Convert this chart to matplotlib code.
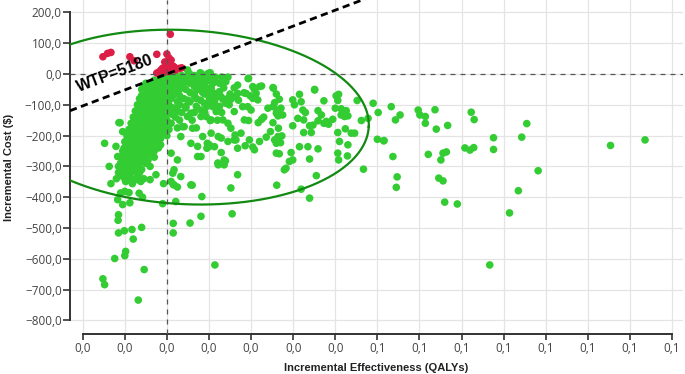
import numpy as np
import matplotlib
matplotlib.use("Agg")
import matplotlib.pyplot as plt

# ---------------- data (effect in 1/1000 QALY, cost in $) ----------------
red_pts = [(0.8, 129), (-15.2, 56), (-14.1, 67), (-13.3, 70), (-8.8, 56), (-7.8, 43), (-2.4, 64),
           (0, 65), (0.5, 52), (1, 45), (-0.5, 39), (0.5, 32), (1.4, 26), (-1, 19), (0, 19), (1, 13),
           (-1.4, 13), (2.1, 13), (2.9, 18), (-0.7, 6), (-1.9, 6), (3.5, 20), (-2.4, 3), (0.3, 8),
           (1.8, 22), (-0.2, 27), (-1.5, 10)]

core_rows = {
    -5: [0.5, 2, 3.5, 5, 6.5, 8],
    -12: [-0.5, 1, 2.5, 4, 5.5, 7, 9, 10.5],
    -20: [-3, -1.5, 0, 1.5, 3, 4.5, 6, 7.5, 11],
    -30: [-5, -3.5, -2, -0.5, 1, 2.5, 4, 5.5, 8, 12.5],
    -40: [-5.5, -4, -2.5, -1, 0.5, 2, 3.5, 6.5, 9],
    -50: [-6, -4.5, -3, -1.5, 0, 1.5, 3, 4.5, 7.5],
    -60: [-5.5, -4, -2.5, -1, 0.5, 2, 5.5, 8.5],
    -70: [-6, -4.5, -3, -1.5, 0, 1.5, 3, 6.5],
    -80: [-6.5, -5, -3.5, -2, -0.5, 1, 4, 7],
    -90: [-6, -4.5, -3, -1.5, 0, 2.5, 5.5],
    -100: [-7, -5.5, -4, -2.5, -1, 0.5, 3],
    -110: [-6.5, -5, -3.5, -2, -0.5, 1.5, 4.5],
    -120: [-7.5, -6, -4.5, -3, -1.5, 0, 2.5],
    -130: [-7, -5.5, -4, -2.5, -1, 1],
    -140: [-8, -6.5, -5, -3.5, -2, -0.5, 2],
    -150: [-7.5, -6, -4.5, -3, -1.5, 0],
    -160: [-8.5, -7, -5.5, -4, -2.5, -1, 1],
    -170: [-8, -6.5, -5, -3.5, -2, -0.5],
    -180: [-9, -7.5, -6, -4.5, -3, -1.5, 0.5],
    -190: [-8.5, -7, -5.5, -4, -2.5, -1],
    -200: [-9.5, -8, -6.5, -5, -3.5, -2, 0],
    -210: [-9, -7.5, -6, -4.5, -3, -1.5],
    -220: [-10, -8.5, -7, -5.5, -4, -2.5],
    -230: [-9.5, -8, -6.5, -5, -3.5, -1.5],
    -240: [-10, -8.5, -7, -5.5, -4, -2],
    -250: [-10.5, -9, -7.5, -6, -4.5, -3],
    -260: [-10, -8.5, -7, -5.5, -4],
    -270: [-11, -9.5, -8, -6.5, -5, -3],
    -280: [-10.5, -9, -7.5, -6, -4.5],
    -290: [-11, -9.5, -8, -6.5, -5],
    -300: [-11.5, -10, -8.5, -7, -4],
    -310: [-10.5, -9, -7.5, -6],
    -320: [-11.5, -10, -8.5, -6.5],
    -330: [-11, -9, -7],
    -340: [-12, -10, -8.5, -5.5],
}

near_rows = {
    -10: [11.5, 13, 14.5],
    -25: [9, 11.5, 14],
    -45: [7, 10.5, 13.5, 16],
    -65: [6.5, 9, 12, 15],
    -85: [5, 8, 11, 14, 17],
    -105: [4.5, 7, 9.5, 12.5],
    -125: [3.5, 6.5, 9, 13],
    -150: [3, 6, 12],
    -175: [2.5, 7],
}

near_pts = [(8.5, -3), (9.8, 2), (9.3, -25), (10.9, -30), (10.5, -46), (9.7, -63), (11.3, -63), (10.1, -79),
            (12.1, -74), (11.3, -90), (8.9, -95), (10.9, -106), (11.7, -122), (9.3, -138), (10.3, -151),
            (13.3, -149), (12.5, -57), (10.5, -192), (8.5, -203), (12.2, -203), (12.9, -208), (10.1, -230),
            (9.5, -241), (11.3, -236), (12.9, -255), (13.9, -282), (12.2, -295), (13.6, -295), (8.1, -268),
            (15.2, -176), (14.5, -160), (16.0, -122), (16.0, -214), (16.2, -198), (16.8, -36), (16.0, -74),
            (14.8, -100), (14.0, -95), (13.3, -82), (14.5, -79), (15.2, -82), (8.1, 2), (7.3, -30),
            (9.3, -52), (11.1, -63), (10.1, -95), (5.7, -127), (8.1, -138), (4.1, -171), (3.3, -203),
            (5.7, -225), (9.6, -225), (7.3, -268), (2.5, -279), (1.7, -311), (1.0, -257), (3.3, -333),
            (1.0, -349), (-2.6, -327), (-7.0, -343), (5.3, 2), (18.8, -63), (20.4, -41), (16.8, -63),
            (12.9, -74), (8.1, -117), (10.5, -149), (4.9, -138), (3.7, -171), (6.1, -176), (7.3, -235),
            (10.1, -235), (12.1, -289), (13.6, -279), (14.5, -219), (16.4, -214), (16.8, -241),
            (16.8, -327), (15.2, -370), (1.4, -322), (1.7, -360), (5.7, -360), (4.9, 13), (7.9, 4), (10.3, 4)]

mid_pts = [(19.4, -14), (18.3, -61), (20.8, -50), (21.2, -63), (22.0, -41), (22.5, -39), (20.4, -79),
           (19.8, -71), (21.6, -84), (19.2, -106), (20.0, -117), (18.0, -106), (24.0, -111), (25.2, -106),
           (25.3, -46), (26.0, -65), (26.7, -82), (25.6, -93), (26.2, -117), (27.1, -111), (26.0, -127),
           (27.5, -133), (26.4, -136), (29.9, -84), (30.3, -100), (31.5, -66), (31.9, -90), (32.3, -117),
           (32.9, -125), (35.1, -52), (37.3, -87), (35.9, -119), (36.7, -133), (37.9, -154), (39.4, -147),
           (40.2, -71), (40.8, -66), (40.6, -86), (40.0, -111), (41.4, -113), (42.6, -119), (41.4, -133),
           (42.2, -138), (43.0, -136), (18.4, -149), (19.4, -151), (21.7, -158), (22.5, -147), (23.0, -140),
           (25.2, -158), (26.5, -176), (29.9, -168), (31.1, -144), (32.5, -149), (33.9, -168), (34.7, -166),
           (34.3, -190), (35.9, -152), (37.3, -160), (38.4, -163), (42.4, -178), (40.6, -190), (43.8, -192),
           (44.6, -192), (17.6, -192), (19.6, -214), (18.6, -233), (20.4, -237), (20.8, -246), (22.0, -219),
           (23.6, -205), (24.6, -187), (25.6, -214), (26.4, -203), (27.3, -201), (26.0, -225), (27.0, -223),
           (29.5, -255), (31.5, -236), (33.5, -236), (35.9, -243), (32.5, -190), (33.9, -276), (29.1, -284),
           (29.9, -279), (28.3, -306), (27.9, -311), (26.0, -257), (26.7, -259), (40.6, -257), (40.8, -279),
           (42.9, -266), (43.0, -230), (41.0, -219), (35.5, -330), (31.9, -374), (33.9, -403), (26.1, -361),
           (25.2, -44), (35.1, -50), (19.3, -15)]

far_pts = [(53.3, -106), (54.3, -149), (55.4, -133), (51.6, -216), (53.7, -268), (54.7, -334), (54.5, -368),
           (59.7, -117), (60.1, -133), (61.4, -138), (61.4, -160), (63.7, -116), (64.0, -179), (66.7, -167),
           (62.1, -261), (65.1, -279), (65.6, -257), (66.4, -253), (64.6, -338), (65.6, -347), (66.0, -416),
           (69.0, -422), (72.3, -124), (73.0, -148), (70.8, -240), (72.0, -247), (72.9, -239), (77.6, -207),
           (77.6, -245), (76.7, -620), (81.4, -451), (83.5, -379), (84.3, -205), (85.5, -161), (88.2, -314),
           (105.4, -232), (113.6, -214), (49.0, -95), (50.2, -125), (50.0, -212), (51.5, -217), (46.7, -309),
           (46.2, -151), (47.8, -144), (45.2, -86)]

tail_pts = [(-13.3, -356), (-10.0, -381), (-11.0, -386), (-9.0, -385), (-6.6, -387), (-11.7, -408),
            (-10.5, -424), (-8.8, -418), (-5.8, -400), (-0.8, -356), (-1.0, -421), (1.5, -359), (2.5, -367),
            (2.1, -414), (6.0, -361), (8.3, -398), (-11.5, -457), (-11.6, -475), (1.5, -485), (5.5, -484),
            (8.1, -462), (15.5, -454), (-11.5, -516), (-10.1, -509), (-8.3, -505), (-6.0, -498), (1.5, -516),
            (-8.0, -536), (-9.8, -576), (-10.0, -590), (-12.4, -599), (-5.4, -635), (11.4, -620),
            (-15.2, -665), (-14.8, -684), (-6.8, -734), (-9.8, -349), (-8.2, -356), (-6.2, -349), (-4.0, -343)]

left_pts = [(-14.8, -225), (-11.4, -158), (-12.1, -235), (-11.7, -268), (-13.7, -300), (-9.5, -252),
            (-7.0, -133), (-11.1, -158), (-10.5, -187), (-9.5, -214), (-10.2, -241)]

wtp = 5180
x_ticks = [-0.02, -0.01, 0.0, 0.01, 0.02, 0.03, 0.04, 0.05, 0.06, 0.07, 0.08, 0.09, 0.10, 0.11, 0.12]
x_tick_labels = ['0,0', '0,0', '0,0', '0,0', '0,0', '0,0', '0,0', '0,1', '0,1', '0,1', '0,1', '0,1',
                 '0,1', '0,1', '0,1']
y_ticks = [200, 100, 0, -100, -200, -300, -400, -500, -600, -700, -800]
y_tick_labels = ['200,0', '100,0', '0,0', '\u2212100,0', '\u2212200,0', '\u2212300,0', '\u2212400,0',
                 '\u2212500,0', '\u2212600,0', '\u2212700,0', '\u2212800,0']

# ellipse (centre in data units, radii/angle in screen-pixel terms)
ell_cx, ell_cy = 0.0043, -140.0
ell_a_px, ell_b_px, ell_theta_deg = 184.0, 87.0, 3.0

# ---------------- build ----------------
green = []
for c, xs in core_rows.items():
    green += [(x, c) for x in xs]
for c, xs in near_rows.items():
    green += [(x, c) for x in xs]
green += near_pts + mid_pts + far_pts + tail_pts + left_pts
g = np.array(green, dtype=float)
r = np.array(red_pts, dtype=float)

W, H = 685, 374
fig = plt.figure(figsize=(W / 100, H / 100), dpi=100)
ax_left, ax_right, ax_top, ax_bot = 70, 683, 0, 334
ax = fig.add_axes([ax_left / W, 1 - ax_bot / H, (ax_right - ax_left) / W, (ax_bot - ax_top) / H])

px_per_x = 4209.0
px_per_y = 0.308
x0_px = 166.9
y0_px = 74.0
ax.set_xlim((ax_left - x0_px) / px_per_x, (ax_right - x0_px) / px_per_x)
ax.set_ylim(-(ax_bot - y0_px) / px_per_y, (y0_px - ax_top) / px_per_y)

ax.set_axisbelow(True)
ax.grid(True, color='#e4e4e4', lw=0.9, zorder=0)

green_c = '#33cc33'
red_c = '#dc1e46'
ax.scatter(g[:, 0] / 1000, g[:, 1], s=30, color=green_c, edgecolors='none', zorder=3)
ax.scatter(r[:, 0] / 1000, r[:, 1], s=30, color=red_c, edgecolors='none', zorder=3)

# ellipse
t = np.linspace(0, 2 * np.pi, 400)
th = np.deg2rad(ell_theta_deg)
dx = ell_a_px * np.cos(t) * np.cos(th) - ell_b_px * np.sin(t) * np.sin(th)
dy = ell_a_px * np.cos(t) * np.sin(th) + ell_b_px * np.sin(t) * np.cos(th)
ax.plot(ell_cx + dx / px_per_x, ell_cy - dy / px_per_y, color='#128a12', lw=1.6, zorder=4)

# zero lines
ax.axhline(0, color='#555555', lw=0.9, ls=(0, (4, 4)), zorder=5)
ax.axvline(0, color='#555555', lw=0.9, ls=(0, (4, 4)), zorder=5)

# WTP line
xl = np.array(ax.get_xlim())
ax.plot(xl, wtp * xl, color='black', lw=2.0, ls=(0, (2.6, 1.6)), zorder=6)
ang = np.degrees(np.arctan(wtp * px_per_y / px_per_x))
ax.text(-0.0124, 2, 'WTP=5180', rotation=ang, rotation_mode='anchor', ha='center', va='center',
        fontsize=11.5, fontweight='bold', family=['Liberation Sans', 'DejaVu Sans'], zorder=7)

# spines
for s in ['top', 'right']:
    ax.spines[s].set_visible(False)
ax.spines['left'].set_bounds(-800, 200)
ax.spines['bottom'].set_bounds(-0.02, 0.12)
ax.spines['left'].set_color('#333333')
ax.spines['bottom'].set_color('#333333')
ax.spines['left'].set_linewidth(1.4)
ax.spines['bottom'].set_linewidth(1.4)

ax.set_xticks(x_ticks)
ax.set_xticklabels(x_tick_labels)
ax.set_yticks(y_ticks)
ax.set_yticklabels(y_tick_labels)
for lab in ax.get_xticklabels() + ax.get_yticklabels():
    lab.set_family(['Open Sans', 'DejaVu Sans'])
    lab.set_fontsize(8.5)
    lab.set_color('#444444')
ax.tick_params(axis='x', length=4, width=1.2, color='#333333', pad=2)
ax.tick_params(axis='y', length=5, width=1.2, color='#333333', pad=1)

ax.set_xlabel('Incremental Effectiveness (QALYs)', fontsize=8, fontweight='bold',
              family=['Liberation Sans', 'DejaVu Sans'], color='#222222')
ax.xaxis.set_label_coords(0.5, -(368 - ax_bot) / (ax_bot - ax_top))
ax.xaxis.label.set_va('center')
ax.set_ylabel('Incremental Cost ($)', fontsize=8, fontweight='bold',
              family=['Liberation Sans', 'DejaVu Sans'], color='#222222')
ax.yaxis.set_label_coords(-(ax_left - 9) / (ax_right - ax_left), 0.5)
ax.yaxis.label.set_va('center')

fig.savefig('out.png', dpi=100)
